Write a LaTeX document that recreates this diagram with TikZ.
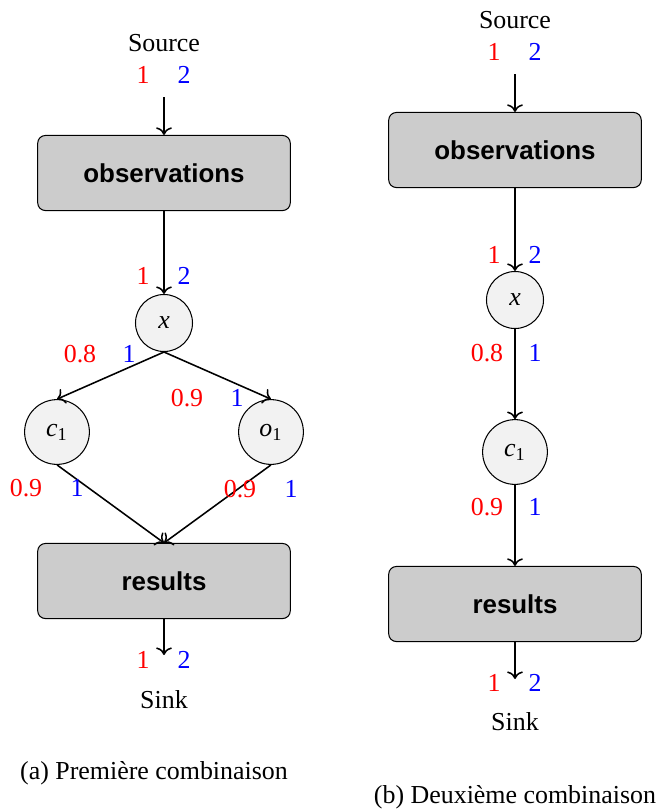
\documentclass[tikz,border=0pt]{standalone}
\usepackage{fontspec}
\setmainfont{Liberation Serif}
\setsansfont{Liberation Sans}
\usetikzlibrary{arrows.meta,positioning}
\newcommand{\vname}[2]{\textit{#1}\textsubscript{#2}}

\begin{document}
\begin{tikzpicture}[
  x=0.386pt,y=-0.386pt,
  block/.style={rectangle,draw,thin,rounded corners=3pt,minimum width=97.5pt,minimum height=29pt,fill=gray!40,font=\sffamily\bfseries},
  var/.style={circle,draw,thin,minimum size=22pt,inner sep=0pt,fill=gray!10},
  wide/.style={minimum size=25pt},
  arrow/.style={->,semithick},
  r/.style={text=red},
  b/.style={text=blue}
]
\useasboundingbox (0,0) rectangle (661,811);
% (a) premiere combinaison
\node (srcA) at (164,43) {Source};
\coordinate (inA) at (164,97);
\node[r] (sa1) at (143,75) {1};
\node[b] (sa2) at (184,75) {2};
\node[block] (obsA) at (164,173) {observations};
\node[var] (xA) at (164,323) {\textit{x}};
\node[var,wide] (cA) at (57,432) {\vname{c}{1}};
\node[var,wide] (oA) at (271,432) {\vname{o}{1}};
\node[block] (resA) at (164,581) {results};
\coordinate (outA) at (164,655);
\node (sinkA) at (164,700) {Sink};
\draw[arrow] (inA) -- (obsA);
\draw[arrow] (obsA) -- (xA);
\draw[arrow] (xA.south) -- (cA.north);
\draw[arrow] (xA.south) -- (oA.north);
\draw[arrow] (cA.south) -- (resA.north);
\draw[arrow] (oA.south) -- (resA.north);
\draw[arrow] (resA) -- (outA);
\node[r] (la1) at (143,276) {1};
\node[b] (la2) at (184,276) {2};
\node[r] (la3) at (80,354) {0.8};
\node[b] (la4) at (129,354) {1};
\node[r] (la5) at (187,398) {0.9};
\node[b] (la6) at (237,398) {1};
\node[r] (la7) at (26,488) {0.9};
\node[b] (la8) at (77,488) {1};
\node[r] (la9) at (240,489) {0.9};
\node[b] (la10) at (291,489) {1};
\node[r] (ka1) at (143,660) {1};
\node[b] (ka2) at (184,660) {2};
\node (capA) at (154,773) {(a) Première combinaison};
% (b) deuxieme combinaison
\node (srcB) at (515,20) {Source};
\coordinate (inB) at (515,74);
\node[r] (sb1) at (494,52) {1};
\node[b] (sb2) at (535,52) {2};
\node[block] (obsB) at (515,150) {observations};
\node[var] (xB) at (515,300) {\textit{x}};
\node[var,wide] (cB) at (515,452) {\vname{c}{1}};
\node[block] (resB) at (515,604) {results};
\coordinate (outB) at (515,679);
\node (sinkB) at (515,722) {Sink};
\draw[arrow] (inB) -- (obsB);
\draw[arrow] (obsB) -- (xB);
\draw[arrow] (xB) -- (cB);
\draw[arrow] (cB) -- (resB);
\draw[arrow] (resB) -- (outB);
\node[r] (lb1) at (494,255) {1};
\node[b] (lb2) at (535,255) {2};
\node[r] (lb3) at (487,353) {0.8};
\node[b] (lb4) at (535,353) {1};
\node[r] (lb5) at (487,507) {0.9};
\node[b] (lb6) at (535,507) {1};
\node[r] (kb1) at (494,683) {1};
\node[b] (kb2) at (535,683) {2};
\node (capB) at (515,797) {(b) Deuxième combinaison};
\end{tikzpicture}
\end{document}
